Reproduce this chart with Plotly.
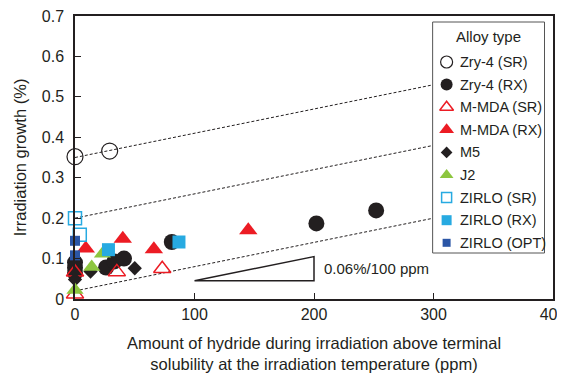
import plotly.graph_objects as go

# ---- data ----
zry4_sr_x = [0, 29]
zry4_sr_y = [0.352, 0.366]

zry4_rx_x = [0, 0, 0, 26, 33, 41, 81, 202, 252]
zry4_rx_y = [0.09, 0.077, 0.064, 0.078, 0.093, 0.1, 0.141, 0.187, 0.219]

mmda_sr_x = [0, 0, 35, 73]
mmda_sr_y = [0.066, 0.012, 0.067, 0.075]

mmda_rx_x = [9, 40, 66, 145]
mmda_rx_y = [0.125, 0.149, 0.123, 0.17]

m5_x = [0, 13, 50]
m5_y = [0.048, 0.068, 0.076]

j2_x = [0, 14, 23]
j2_y = [0.022, 0.079, 0.112]

zirlo_sr_x = [0, 4]
zirlo_sr_y = [0.2, 0.159]

zirlo_rx_x = [28, 87]
zirlo_rx_y = [0.122, 0.141]

zirlo_opt_x = [0, 0]
zirlo_opt_y = [0.144, 0.108]

# guide lines (slope 0.06 %/100 ppm), running up to the legend box
guide_x = [0, 299]
guide_intercepts = [0.35, 0.2, 0.02]
guide_slope = 0.0006

# slope triangle
tri_x = [100, 200, 200, 100]
tri_y = [0.045, 0.045, 0.105, 0.045]
tri_label = "0.06%/100 ppm"

x_ticks = [0, 100, 200, 300, 400]
y_ticks = [0, 0.1, 0.2, 0.3, 0.4, 0.5, 0.6, 0.7]
y_ticktext = ["0", "0.1", "0.2", "0.3", "0.4", "0.5", "0.6", "0.7"]

legend_title = "Alloy type"
legend_names = ["Zry-4 (SR)", "Zry-4 (RX)", "M-MDA (SR)", "M-MDA (RX)", "M5",
                "J2", "ZIRLO (SR)", "ZIRLO (RX)", "ZIRLO (OPT)"]

BLACK = "#231f20"
RED = "#ec1c24"
GREEN = "#8dc63f"
LBLUE = "#27aae1"
DBLUE = "#2b56a6"
FONT = "Liberation Sans, Arial, sans-serif"

# the page body adds an 8px margin, so the figure is made 8px smaller
OFF = 8
W, H = 565 - OFF, 376 - OFF
ML, MR, MT, MB = 75 - OFF, 11.5, 16 - OFF, 77
PW, PH = W - ML - MR, H - MT - MB


def px(p):  # screen pixel x -> paper
    return (p - OFF - ML) / PW


def py(q):  # screen pixel y -> paper
    return (H - MB - (q - OFF)) / PH


fig = go.Figure()

for b in guide_intercepts:
    fig.add_trace(go.Scatter(
        x=guide_x, y=[b + guide_slope * v for v in guide_x],
        mode="lines", line=dict(color=BLACK, width=1, dash="3px,2px"),
        showlegend=False, hoverinfo="skip"))

fig.add_trace(go.Scatter(
    x=tri_x, y=tri_y, mode="lines", line=dict(color=BLACK, width=1.5),
    showlegend=False, hoverinfo="skip", cliponaxis=False))

styles = [
    # symbol, color, size, open, line width, legend size
    ("circle", BLACK, 16, True, 1.2, 12),
    ("circle", BLACK, 16, False, 0, 12),
    ("triangle-up", RED, 15, True, 1.5, 12),
    ("triangle-up", RED, 16, False, 0, 13),
    ("diamond", BLACK, 11, False, 0, 9),
    ("triangle-up", GREEN, 15, False, 0, 12),
    ("square", LBLUE, 13, True, 1.5, 10),
    ("square", LBLUE, 13, False, 0, 10),
    ("square", DBLUE, 10, False, 0, 8),
]
series = [(zry4_sr_x, zry4_sr_y), (zry4_rx_x, zry4_rx_y),
          (mmda_sr_x, mmda_sr_y), (mmda_rx_x, mmda_rx_y), (m5_x, m5_y),
          (j2_x, j2_y), (zirlo_sr_x, zirlo_sr_y), (zirlo_rx_x, zirlo_rx_y),
          (zirlo_opt_x, zirlo_opt_y)]


def mk(symbol, color, size, open_, lw):
    if open_:
        return dict(symbol=symbol + "-open", size=size, color=color,
                    line=dict(color=color, width=lw))
    return dict(symbol=symbol, size=size, color=color, line=dict(width=0))


for name, (xs, ys), (sym, col, sz, op, lw, lsz) in zip(legend_names, series, styles):
    fig.add_trace(go.Scatter(x=xs, y=ys, mode="markers", name=name,
                             marker=mk(sym, col, sz, op, lw), cliponaxis=False,
                             showlegend=False))

# ---- custom legend (box, title, symbols, labels) ----
box_l, box_r, box_t, box_b = 433, 545, 22, 253
row0, row_gap = 62, 22.6
sym_x, txt_x = 447, 458

fig.add_shape(type="rect", xref="paper", yref="paper",
              x0=px(box_l), x1=px(box_r), y0=py(box_b), y1=py(box_t),
              line=dict(color="#555555", width=1), fillcolor="white",
              layer="below")
fig.add_annotation(xref="paper", yref="paper", x=px((box_l + box_r) / 2),
                   y=py(37), text=legend_title, showarrow=False,
                   xanchor="center", yanchor="middle",
                   font=dict(size=15, color=BLACK, family=FONT))
for i, (name, (sym, col, sz, op, lw, lsz)) in enumerate(zip(legend_names, styles)):
    yy = py(row0 + row_gap * i)
    fig.add_trace(go.Scatter(x=[px(sym_x)], y=[yy], mode="markers",
                             marker=mk(sym, col, lsz, op, lw), xaxis="x2",
                             yaxis="y2", showlegend=False, hoverinfo="skip",
                             cliponaxis=False))
    fig.add_annotation(xref="paper", yref="paper", x=px(txt_x), y=yy,
                       text=name, showarrow=False, xanchor="left",
                       yanchor="middle",
                       font=dict(size=14.5, color=BLACK, family=FONT))

fig.add_annotation(x=tri_x[1], y=(tri_y[0] + tri_y[2]) / 2, text=tri_label,
                   xanchor="left", yanchor="middle", xshift=8, showarrow=False,
                   font=dict(size=15, color=BLACK, family=FONT))

fig.update_layout(
    width=W, height=H,
    margin=dict(l=ML, r=MR, t=MT, b=MB),
    paper_bgcolor="white", plot_bgcolor="white",
    font=dict(family=FONT, size=15, color=BLACK),
    showlegend=False,
    xaxis=dict(
        range=[0, 400], tickvals=x_ticks, ticks="inside", ticklen=6,
        tickcolor=BLACK, tickwidth=1, showline=True, linecolor=BLACK,
        linewidth=1.5, mirror=True, showgrid=False, zeroline=False,
        tickfont=dict(size=16), automargin=False, ticklabeloverflow="allow",
        title=dict(text="Amount of hydride during irradiation above terminal<br>"
                        "solubility at the irradiation temperature (ppm)",
                   font=dict(size=16.5), standoff=15),
    ),
    yaxis=dict(
        range=[0, 0.7], tickvals=y_ticks, ticktext=y_ticktext,
        ticks="inside", ticklen=6, tickcolor=BLACK, tickwidth=1,
        showline=True, linecolor=BLACK, linewidth=1.5, mirror=True,
        showgrid=False, zeroline=False, tickfont=dict(size=16),
        ticklabelstandoff=6, automargin=False, ticklabeloverflow="allow",
        title=dict(text="Irradiation growth (%)", font=dict(size=16.5),
                   standoff=11),
    ),
    xaxis2=dict(overlaying="x", range=[0, 1], visible=False, domain=[0, 1]),
    yaxis2=dict(overlaying="y", range=[0, 1], visible=False),
)

fig.write_html("out.html")
